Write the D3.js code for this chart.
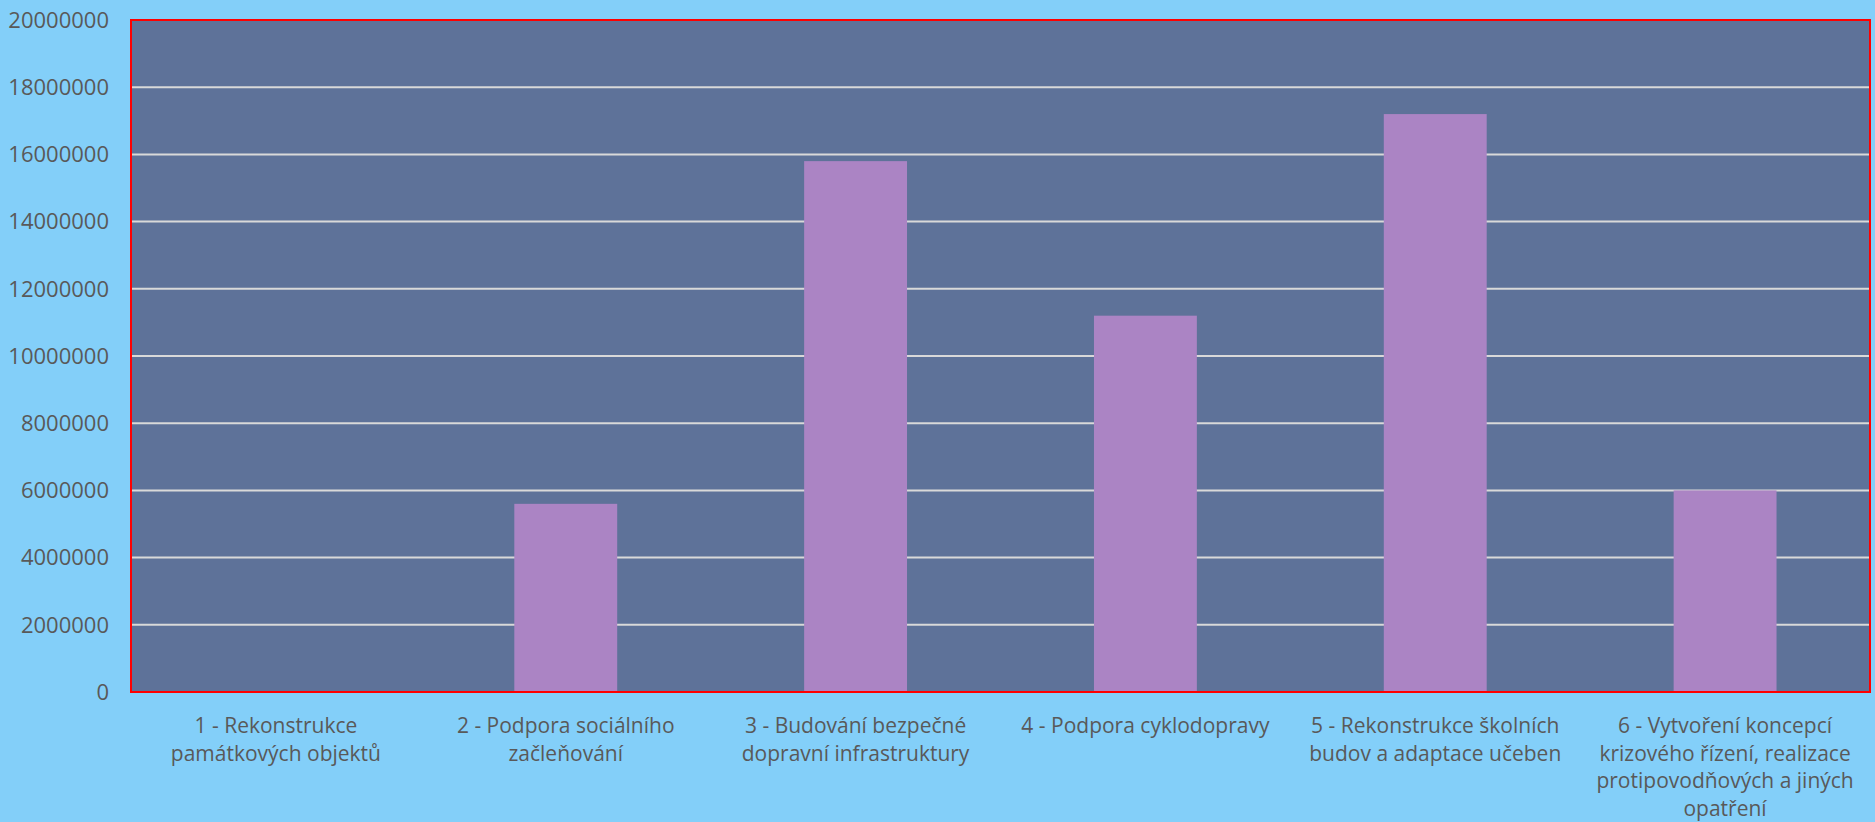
<!DOCTYPE html>
<html lang="cs">
<head>
  <meta charset="UTF-8">
  <title>Opatření – náklady</title>
  <style>
    html, body { margin: 0; padding: 0; background: #83cff9; }
    svg { display: block; }
    text { font-family: "Open Sans", "Noto Sans", sans-serif; fill: #595959; }
  </style>
</head>
<body>
  <svg width="1875" height="822"></svg>
  <script src="https://d3js.org/d3.v7.min.js"></script>
  <script>
    const categories = [
      "1 - Rekonstrukce památkových objektů",
      "2 - Podpora sociálního začleňování",
      "3 - Budování bezpečné dopravní infrastruktury",
      "4 - Podpora cyklodopravy",
      "5 - Rekonstrukce školních budov a adaptace učeben",
      "6 - Vytvoření koncepcí krizového řízení, realizace protipovodňových a jiných opatření"
    ];
    const categoryLines = [
      ["1 - Rekonstrukce", "památkových objektů"],
      ["2 - Podpora sociálního", "začleňování"],
      ["3 - Budování bezpečné", "dopravní infrastruktury"],
      ["4 - Podpora cyklodopravy"],
      ["5 - Rekonstrukce školních", "budov a adaptace učeben"],
      ["6 - Vytvoření koncepcí", "krizového řízení, realizace", "protipovodňových a jiných", "opatření"]
    ];
    const values = [0, 5600000, 15800000, 11200000, 17200000, 6000000];
    const yTicks = [0, 2000000, 4000000, 6000000, 8000000, 10000000, 12000000, 14000000, 16000000, 18000000, 20000000];

    const svg = d3.select("svg");
    const plot = { left: 131, right: 1870, top: 20, bottom: 692 };

    const x = d3.scaleBand()
      .domain(categories)
      .range([plot.left, plot.right])
      .paddingInner(0.645)
      .paddingOuter(0.3225);

    const y = d3.scaleLinear()
      .domain([0, 20000000])
      .range([plot.bottom, plot.top]);

    // plot background
    svg.append("rect")
      .attr("x", plot.left)
      .attr("y", plot.top)
      .attr("width", plot.right - plot.left)
      .attr("height", plot.bottom - plot.top)
      .attr("fill", "#5e7299");

    // gridlines
    svg.append("g")
      .selectAll("line")
      .data(yTicks.filter(d => d > 0))
      .join("line")
      .attr("x1", plot.left)
      .attr("x2", plot.right)
      .attr("y1", d => y(d))
      .attr("y2", d => y(d))
      .attr("stroke", "#d9d9d9")
      .attr("stroke-width", 2);

    // bars
    svg.append("g")
      .selectAll("rect")
      .data(values)
      .join("rect")
      .attr("x", (d, i) => x(categories[i]))
      .attr("width", x.bandwidth())
      .attr("y", d => y(d))
      .attr("height", d => y(0) - y(d))
      .attr("fill", "#ab84c4");

    // x axis line
    svg.append("line")
      .attr("x1", plot.left)
      .attr("x2", plot.right)
      .attr("y1", y(0))
      .attr("y2", y(0))
      .attr("stroke", "#e6b0b8")
      .attr("stroke-width", 2);

    // red border
    svg.append("rect")
      .attr("x", plot.left)
      .attr("y", plot.top)
      .attr("width", plot.right - plot.left)
      .attr("height", plot.bottom - plot.top)
      .attr("fill", "none")
      .attr("stroke", "#ff0000")
      .attr("stroke-width", 2);

    // y axis labels
    svg.append("g")
      .selectAll("text")
      .data(yTicks)
      .join("text")
      .attr("x", 109)
      .attr("y", d => y(d))
      .attr("dy", "0.35em")
      .attr("text-anchor", "end")
      .attr("font-size", 22)
      .text(d => d);

    // x axis labels
    const xl = svg.append("g")
      .selectAll("text")
      .data(categories)
      .join("text")
      .attr("x", d => x(d) + x.bandwidth() / 2)
      .attr("y", 726)
      .attr("text-anchor", "middle")
      .attr("font-size", 21);
    xl.selectAll("tspan")
      .data((d, i) => categoryLines[i])
      .join("tspan")
      .attr("x", function() { return this.parentNode.getAttribute("x"); })
      .attr("dy", (d, i) => i === 0 ? "0.35em" : 27.5)
      .text(d => d);
  </script>
</body>
</html>
